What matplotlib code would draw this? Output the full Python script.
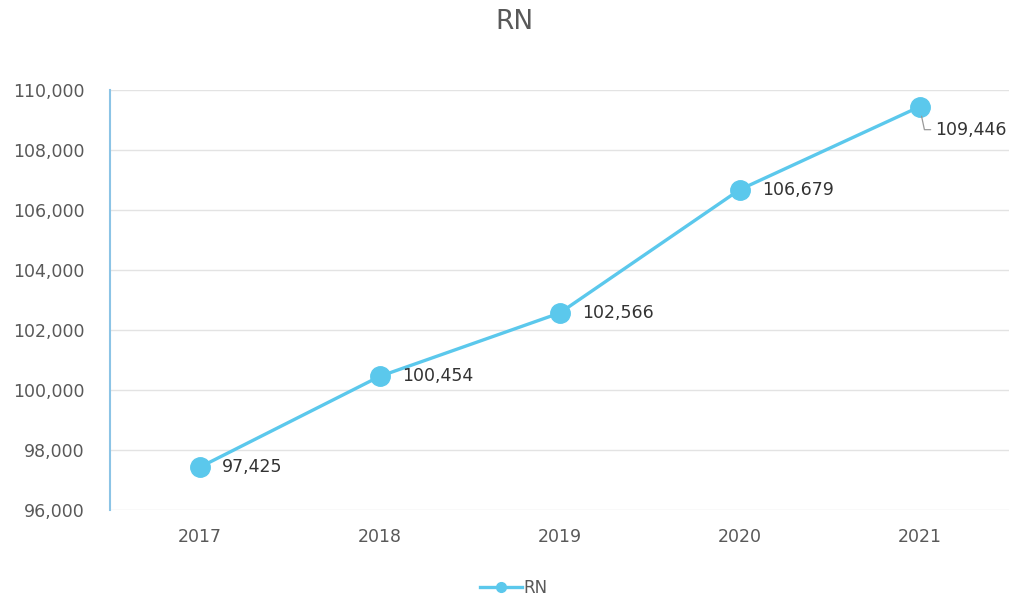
import matplotlib.pyplot as plt
from matplotlib.ticker import FuncFormatter

years = ["2017", "2018", "2019", "2020", "2021"]
rn = [97425, 100454, 102566, 106679, 109446]

blue = "#5BC8EC"
grey = "#595959"

fig = plt.figure(figsize=(10.28, 5.97), dpi=100)
ax = fig.add_axes([0.107, 0.146, 0.875, 0.703])

x = list(range(len(years)))
ax.plot(x, rn, color=blue, linewidth=2.4, marker="o", markersize=14, label="RN", zorder=3)

for i, v in enumerate(rn):
    if i == len(rn) - 1:
        # last label sits below-right with a leader line
        ax.annotate(f"{v:,}", xy=(i, v), xytext=(11, -16.5), textcoords="offset points",
                    fontsize=12.5, color="#333333", va="center", ha="left",
                    arrowprops=dict(arrowstyle="-", color="#999999", lw=0.9,
                                    relpos=(0, 0.5),
                                    connectionstyle="angle,angleA=180,angleB=-78,rad=0",
                                    shrinkA=1, shrinkB=7))
    else:
        ax.annotate(f"{v:,}", xy=(i, v), xytext=(16, 0), textcoords="offset points",
                    fontsize=12.5, color="#333333", va="center", ha="left")

ax.set_xlim(-0.5, 4.5)
ax.set_ylim(96000, 110000)
ax.set_yticks(range(96000, 110001, 2000))
ax.yaxis.set_major_formatter(FuncFormatter(lambda v, p: f"{int(v):,}"))
ax.set_xticks(x)
ax.set_xticklabels(years)
ax.tick_params(axis="both", length=0, labelsize=12.5, labelcolor=grey)
ax.tick_params(axis="y", pad=18)
ax.tick_params(axis="x", pad=13)
ax.grid(axis="y", color="#e3e3e3", linewidth=1)
ax.set_axisbelow(True)
for s in ["top", "right", "bottom"]:
    ax.spines[s].set_visible(False)
ax.spines["left"].set_color("#8cc4e6")
ax.spines["left"].set_linewidth(1.5)

fig.text(0.5, 0.963, "RN", ha="center", va="center", fontsize=19, color=grey)
fig.legend(loc="lower center", bbox_to_anchor=(0.5, -0.025), frameon=False,
           fontsize=12, labelcolor=grey, handlelength=2.5, markerscale=0.5, handletextpad=0.1)

fig.savefig("out.png", dpi=100)
